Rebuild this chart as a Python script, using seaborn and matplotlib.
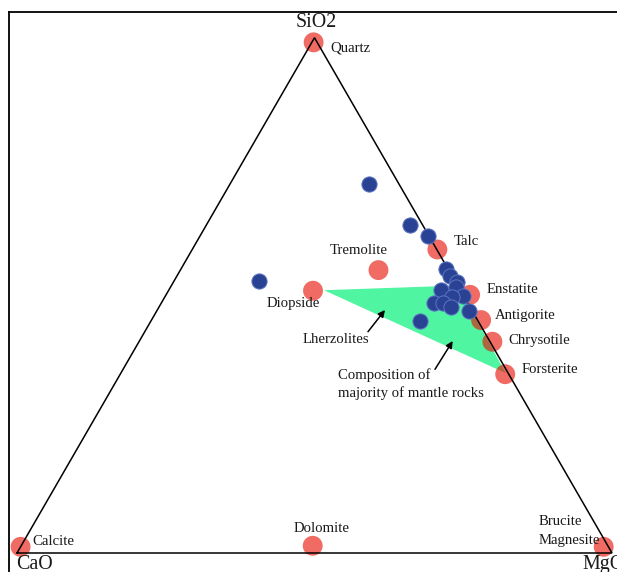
import numpy as np
import pandas as pd
import seaborn as sns
import matplotlib.pyplot as plt

# Reference minerals (mol % of CaO, MgO, SiO2)
minerals = ["Quartz", "Talc", "Tremolite", "Diopside", "Enstatite", "Antigorite",
            "Chrysotile", "Forsterite", "Calcite", "Dolomite", "Brucite\nMagnesite"]
mineral_cao = [0.6, 0.0, 11.8, 24.9, 0.0, 0.0, 0.0, 0.6, 98.8, 49.6, 0.8]
mineral_mgo = [0.3, 41.2, 33.3, 24.3, 51.1, 55.4, 59.4, 64.7, 0.0, 49.0, 98.0]
mineral_sio2 = [99.1, 58.9, 54.9, 50.9, 50.1, 45.2, 41.0, 34.7, 1.2, 1.4, 1.2]

# Rock samples
sample_cao = [33.0, 5.1, 2.1, 0.1, 0.3, 0.4, 0.0, 0.5, 3.3, 0.1, 2.1, 5.6, 4.1, 3.1, 0.6, 9.8]
sample_mgo = [14.2, 23.4, 34.3, 38.4, 44.6, 45.9, 47.7, 47.9, 45.7, 50.0, 48.2, 45.8, 47.4, 49.0, 52.5, 45.2]
sample_sio2 = [52.8, 71.6, 63.6, 61.5, 55.1, 53.7, 52.6, 51.6, 51.0, 49.9, 49.7, 48.6, 48.5, 47.8, 46.9, 45.0]

# Mantle-rock (lherzolite) field
field_cao = [22.9, 0.0, 0.4]
field_mgo = [26.1, 48.1, 64.7]
field_sio2 = [51.0, 51.9, 34.9]

# Apex labels
apex_labels = ["CaO", "MgO", "SiO2"]

H = np.sqrt(3) / 2


def project(cao, mgo, sio2):
    mgo = np.asarray(mgo, float)
    sio2 = np.asarray(sio2, float)
    return (mgo + sio2 / 2) / 100, sio2 / 100 * H


sns.set_theme(style="white")
plt.rcParams["font.family"] = ["Liberation Serif", "DejaVu Serif"]

fig = plt.figure(figsize=(6.17, 5.72), dpi=100, facecolor="white")
ax = fig.add_axes([9 / 617, (572 - 620) / 572, 671 / 617, 608 / 572])
ax.set_xlim(-8 / 595, 663 / 595)
ax.set_ylim(-67 / 595, 541 / 595)
ax.set_xticks([])
ax.set_yticks([])
for sp in ax.spines.values():
    sp.set_color("black")
    sp.set_linewidth(1.3)

# Lherzolite field
fx, fy = project(field_cao, field_mgo, field_sio2)
ax.fill(fx, fy, color="#4ff5a0", lw=0, zorder=1)

# Minerals
mx, my = project(mineral_cao, mineral_mgo, mineral_sio2)
df_min = pd.DataFrame({"x": mx, "y": my, "name": minerals})
sns.scatterplot(data=df_min, x="x", y="y", s=205, color="#e71003", alpha=0.62,
                edgecolor="none", linewidth=0, zorder=2, ax=ax, legend=False)

# Triangle frame
tx, ty = project([100, 0, 0, 100], [0, 100, 0, 0], [0, 0, 100, 0])
ax.plot(tx, ty, color="black", lw=1.1, zorder=3, solid_joinstyle="miter")

# Samples
sx, sy = project(sample_cao, sample_mgo, sample_sio2)
df_smp = pd.DataFrame({"x": sx, "y": sy})
sns.scatterplot(data=df_smp, x="x", y="y", s=120, color="#2a4294",
                edgecolor="#5d75c2", linewidth=0.7, zorder=4, ax=ax, legend=False)
ax.set_xlabel("")
ax.set_ylabel("")

# Mineral labels (offsets in points, horizontal alignment)
label_layout = {
    "Quartz": ((11.9, -4.1), "left"),
    "Talc": ((12.0, 5.5), "left"),
    "Tremolite": ((-13.9, 14.4), "center"),
    "Diopside": ((-14.2, -9.1), "center"),
    "Enstatite": ((12.2, 4.1), "left"),
    "Antigorite": ((10.1, 3.6), "left"),
    "Chrysotile": ((11.5, 0.7), "left"),
    "Forsterite": ((11.5, 3.4), "left"),
    "Calcite": ((8.6, 3.6), "left"),
    "Dolomite": ((6.1, 12.2), "center"),
    "Brucite\nMagnesite": ((-47.2, 11.5), "left"),
}
for name, x, y in zip(minerals, mx, my):
    off, ha = label_layout[name]
    ax.annotate(name, (x, y), xytext=off, textcoords="offset points",
                ha=ha, va="center", fontsize=10.6, color="#1a1a1a",
                linespacing=1.6, zorder=5)

# Apex labels
apex_off = {"CaO": ((-0.7, -8.0), "left"), "MgO": ((-21.1, -8.0), "left"),
            "SiO2": ((1.5, 11.0), "center")}
for lab, x, y in zip(apex_labels, tx[:3], ty[:3]):
    off, ha = apex_off[lab]
    ax.annotate(lab, (x, y), xytext=off, textcoords="offset points",
                ha=ha, va="center", fontsize=14.4, color="#1a1a1a",
                annotation_clip=False, zorder=5)

# Field annotations
arrow = dict(arrowstyle="-|>", color="black", lw=1.1, mutation_scale=10,
             shrinkA=0, shrinkB=0)
ax.annotate("", xy=(0.6185, 0.4084), xytext=(0.5899, 0.3719),
            arrowprops=arrow, zorder=5)
ax.text(0.5361, 0.3592, "Lherzolites", ha="center", va="center",
        fontsize=10.6, color="#1a1a1a")
ax.annotate("", xy=(0.7323, 0.3563), xytext=(0.7025, 0.3087),
            arrowprops=arrow, zorder=5)
ax.text(0.5395, 0.2840, "Composition of\nmajority of mantle rocks", ha="left",
        va="center", fontsize=10.6, color="#1a1a1a", linespacing=1.45)

fig.savefig("out.png", dpi=100, facecolor="white")
